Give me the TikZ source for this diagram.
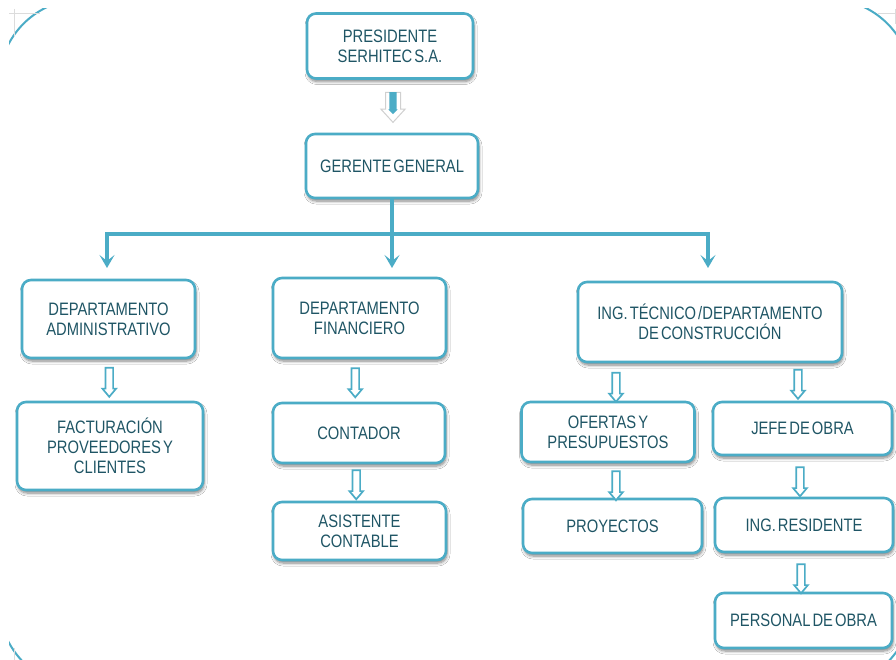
\documentclass[tikz,border=0pt]{standalone}
\usepackage{fontspec}
\setmainfont{Liberation Sans}[FakeStretch=0.82, WordSpace=0.5]
\usetikzlibrary{arrows.meta,shapes.arrows,shadows.blur,calc}
\definecolor{aqua}{HTML}{4BACC6}
\definecolor{ink}{HTML}{1F5565}
\definecolor{guide}{HTML}{DCDCDC}
\begin{document}
\begin{tikzpicture}[x=1pt,y=-1pt,
  >={Stealth[length=13pt,width=15pt,inset=6pt]},
  box/.style={draw=aqua, line width=2.6pt, fill=white, rounded corners=9pt,
    align=center, text=ink, font=\fontsize{18}{20}\selectfont, inner sep=2pt,
    blur shadow={shadow xshift=1pt, shadow yshift=-3pt, shadow blur steps=6,
      shadow blur radius=3pt, shadow opacity=50}},
  conn/.style={draw=aqua, line width=3.5pt, line join=miter},
  harrow/.style={single arrow, rotate=-90, draw=aqua, fill=white, line width=1.7pt,
    inner xsep=0pt, inner ysep=3pt, minimum height=29pt,
    single arrow head extend=3pt, single arrow tip angle=80},
  frameline/.style={draw=aqua, line width=2pt},
  cropline/.style={draw=guide, line width=1pt}
]
% page
\fill[white] (0,0) rectangle (896,660);
\useasboundingbox (0,0) rectangle (896,660);

% outer rounded frame, only its corners fall inside the page
\begin{scope}
  \clip (9,9) rectangle (896,660);
  \draw[frameline, rounded corners=84pt] (-1,-1) rectangle (912,687);
\end{scope}
\draw[cropline] (14,9) -- (14,36) (9,14) -- (40,14);
\draw[cropline] (878,14) -- (896,14) (895,9) -- (895,24);
\draw[cropline] (14,648) -- (14,660);

% boxes
\node[box, minimum width=166pt, minimum height=65pt] (pres) at (390,46) {PRESIDENTE\\SERHITEC S.A.};
\node[box, minimum width=172pt, minimum height=64pt] (ger) at (392,166) {GERENTE GENERAL};

\node[box, minimum width=173pt, minimum height=78pt] (adm) at (108.5,319) {DEPARTAMENTO\\ADMINISTRATIVO};
\node[box, minimum width=186pt, minimum height=88pt] (fac) at (110,446) {FACTURACIÓN\\PROVEEDORES Y\\CLIENTES};

\node[box, minimum width=173pt, minimum height=80pt] (fin) at (359.5,318) {DEPARTAMENTO\\FINANCIERO};
\node[box, minimum width=172pt, minimum height=60pt] (cont) at (359,433) {CONTADOR};
\node[box, minimum width=173pt, minimum height=58pt] (asis) at (359.5,531) {ASISTENTE\\CONTABLE};

\node[box, minimum width=264pt, minimum height=80pt] (ing) at (710,322) {ING. TÉCNICO /DEPARTAMENTO\\DE CONSTRUCCIÓN};
\node[box, minimum width=173pt, minimum height=60pt] (ofe) at (608,432) {OFERTAS Y\\PRESUPUESTOS};
\node[box, minimum width=179pt, minimum height=54pt] (proy) at (612.5,526) {PROYECTOS};
\node[box, minimum width=179pt, minimum height=53pt] (jefe) at (802.5,428.5) {JEFE DE OBRA};
\node[box, minimum width=178pt, minimum height=54pt] (res) at (804,525) {ING. RESIDENTE};
\node[box, minimum width=177pt, minimum height=55pt] (pers) at (803.5,620.5) {PERSONAL DE OBRA};

% block arrow between president and general manager
\path (pres.south) -- (ger.north)
  node[midway, yshift=3pt, xshift=2pt, single arrow, rotate=-90, draw=guide!80!black!60,
    fill=white, line width=1pt, inner xsep=0pt, inner ysep=7pt, minimum height=30pt,
    single arrow head extend=4.5pt, single arrow tip angle=85] (bigarrow) {};
\path (pres.south) -- (ger.north)
  node[midway, yshift=5pt, xshift=2pt, single arrow, rotate=-90, fill=aqua,
    inner xsep=0pt, inner ysep=3.5pt, minimum height=22pt,
    single arrow head extend=1pt, single arrow tip angle=90] {};

% distribution lines from the general manager
\coordinate (busL) at (107,234);
\coordinate (busR) at (708,234);
\coordinate (tipline) at (0,268);
\draw[conn, ->] (ger.south) -- (ger.south |- tipline);
\draw[conn, <->] (busL |- tipline) -- (busL) -- (busR) -- (busR |- tipline);

% hollow arrows inside each branch
\path (adm.south) -- (fac.north) node[midway, harrow] {};
\path ([xshift=-4pt]fin.south) -- ([xshift=-4pt]cont.north) node[midway, harrow] {};
\path ([xshift=-3pt]cont.south) -- ([xshift=-3pt]asis.north) node[midway, harrow] {};
\path (ing.south -| 616,0) -- (ofe.north -| 616,0) node[midway, yshift=-3pt, harrow] {};
\path (ing.south -| 798,0) -- (jefe.north -| 798,0) node[midway, harrow] {};
\path (ofe.south -| 616,0) -- (proy.north -| 616,0) node[midway, yshift=-3pt, harrow] {};
\path (jefe.south -| 800,0) -- (res.north -| 800,0) node[midway, yshift=-3pt, harrow] {};
\path (res.south -| 801,0) -- (pers.north -| 801,0) node[midway, yshift=-4pt, harrow] {};
\end{tikzpicture}
\end{document}
